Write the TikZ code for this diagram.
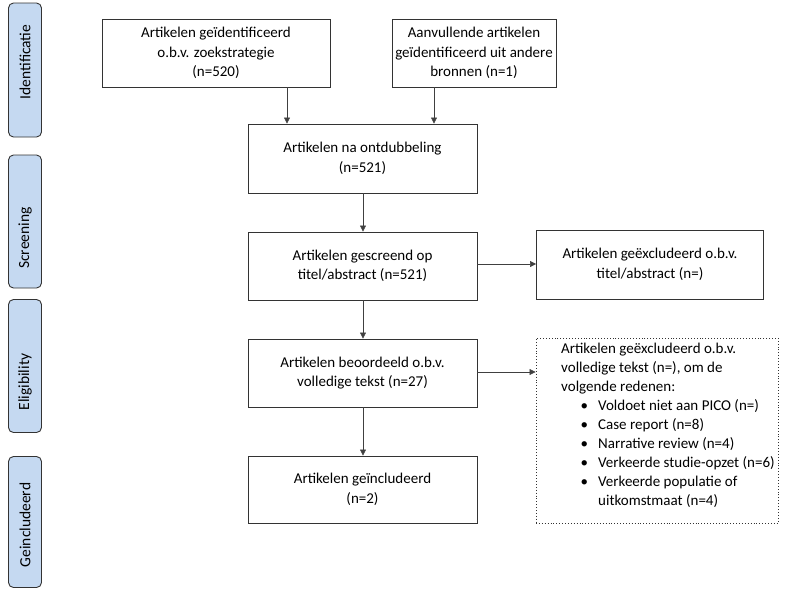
\documentclass[tikz,border=0pt]{standalone}
\usepackage{fontspec}
\setmainfont{Carlito}
\usetikzlibrary{arrows.meta}
\definecolor{phase}{HTML}{C5D9F1}
\definecolor{edge}{HTML}{333333}
\tikzset{
  box/.style={draw=edge, line width=0.9pt, align=center, font=\fontsize{15}{19.5}\selectfont, inner sep=0pt},
  phasebox/.style={draw=edge, line width=0.9pt, fill=phase, rounded corners=5pt, inner sep=0pt, minimum width=33pt},
  phasetext/.style={rotate=90, font=\fontsize{15.5}{19}\selectfont, inner sep=0pt},
  arr/.style={draw=black!75, line width=0.6pt, -{Triangle[width=6pt,length=6pt]}},
  txt/.style={align=left, font=\fontsize{15}{19}\selectfont, inner sep=0pt}
}
\begin{document}
\begin{tikzpicture}[x=1pt,y=-1pt]
\useasboundingbox (0,0) rectangle (792,595);
% phase labels
\node[phasebox, minimum height=134pt] (p1) at (25,70) {};
\node[phasetext] (p1t) at (25,62) {Identificatie};
\node[phasebox, minimum height=133pt] (p2) at (25,221.5) {};
\node[phasetext] (p2t) at (25,238) {Screening};
\node[phasebox, minimum height=133pt] (p3) at (25,366) {};
\node[phasetext] (p3t) at (25,382) {Eligibility};
\node[phasebox, minimum height=131pt] (p4) at (25,522) {};
\node[phasetext] (p4t) at (25,525) {Geincludeerd};
% main boxes
\node[box, minimum width=228pt, minimum height=68pt] (b1) at (216,53) {Artikelen geïdentificeerd\\o.b.v. zoekstrategie\\(n=520)};
\node[box, minimum width=164pt, minimum height=68pt] (b2) at (474,53) {Aanvullende artikelen\\geïdentificeerd uit andere\\bronnen (n=1)};
\node[box, minimum width=229pt, minimum height=69pt] (b3) at (362.5,158.5) {Artikelen na ontdubbeling\\(n=521)};
\node[box, minimum width=229pt, minimum height=68pt] (b4) at (362.5,266) {Artikelen gescreend op\\titel/abstract (n=521)};
\node[box, minimum width=229pt, minimum height=68pt] (b5) at (362.5,373) {Artikelen beoordeeld o.b.v.\\volledige tekst (n=27)};
\node[box, minimum width=229pt, minimum height=67pt] (b6) at (362.5,489.5) {Artikelen geïncludeerd\\(n=2)};
\node[box, minimum width=227pt, minimum height=69pt] (e1) at (650,264.5) {Artikelen geëxcludeerd o.b.v.\\titel/abstract (n=)};
\node[box, dotted, minimum width=242pt, minimum height=185pt] (e2) at (657,430.5) {};
\node[txt, anchor=north west] (e2t) at (561,343) {Artikelen geëxcludeerd o.b.v.\\volledige tekst (n=), om de\\volgende redenen:\\
\hspace*{37pt}\llap{\textbullet\hspace{10pt}}Voldoet niet aan PICO (n=)\\
\hspace*{37pt}\llap{\textbullet\hspace{10pt}}Case report (n=8)\\
\hspace*{37pt}\llap{\textbullet\hspace{10pt}}Narrative review (n=4)\\
\hspace*{37pt}\llap{\textbullet\hspace{10pt}}Verkeerde studie-opzet (n=6)\\
\hspace*{37pt}\llap{\textbullet\hspace{10pt}}Verkeerde populatie of\\
\hspace*{37pt}uitkomstmaat (n=4)};
% arrows
\draw[arr] (b1.south -| 287,0) -- (b3.north -| 287,0);
\draw[arr] (b2.south -| 434,0) -- (b3.north -| 434,0);
\draw[arr] (b3.south -| 363,0) -- (b4.north -| 363,0);
\draw[arr] (b4.south -| 363,0) -- (b5.north -| 363,0);
\draw[arr] (b5.south -| 363,0) -- (b6.north -| 363,0);
\draw[arr] (b4.east |- 0,264) -- (e1.west |- 0,264);
\draw[arr] (b5.east |- 0,372) -- (e2.west |- 0,372);
\end{tikzpicture}
\end{document}
